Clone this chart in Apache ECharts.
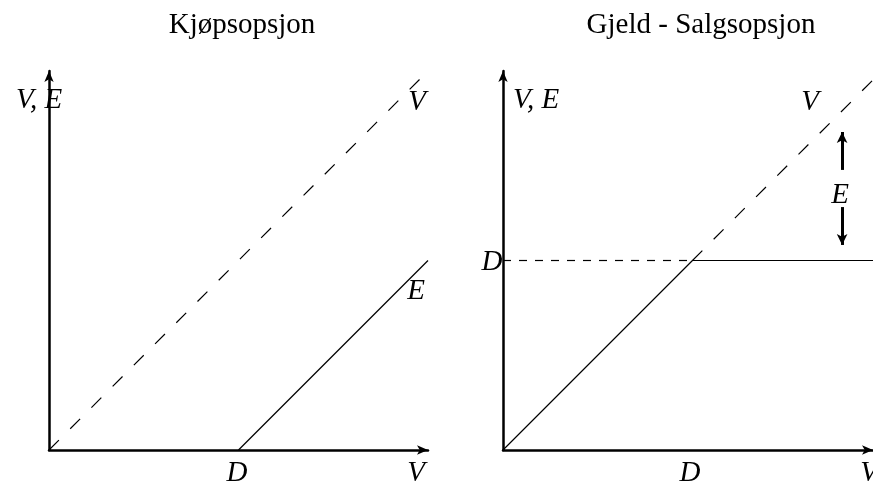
<!DOCTYPE html>
<html>
<head>
<meta charset="utf-8">
<script src="https://cdn.jsdelivr.net/npm/echarts@6/dist/echarts.min.js"></script>
<style>html,body{margin:0;padding:0;background:#fff}#c{width:873px;height:484px}</style>
</head>
<body>
<div id="c"></div>
<script>
// Data (option payoff diagrams, units: D = 1)
const titles = ['Kjøpsopsjon', 'Gjeld - Salgsopsjon'];
const strikeD = 1;
const callDashedV = [[0, 0], [2, 2]];
const callPayoffE = [[1, 0], [2, 1]];
const debtDashedV = [[1, 1], [2, 2]];
const debtLevelDashed = [[0, 1], [1, 1]];
const debtPayoff = [[0, 0], [1, 1], [2, 1]];
const equityArrowX = 1.79;
const equityArrowUp = [[1.478, 1.678]];
const equityArrowDown = [[1.282, 1.082]];

const chart = echarts.init(document.getElementById('c'), null, {renderer: 'canvas'});
const serif = '"Liberation Serif", "DejaVu Serif", serif';
const axisBase = (idx, max) => ({
  gridIndex: idx, min: 0, max: max, type: 'value',
  splitLine: {show: false}, axisTick: {show: false}, axisLabel: {show: false},
  axisLine: {show: true, onZero: false, symbol: ['none', 'arrow'], symbolSize: [7, 11],
    lineStyle: {color: '#000', width: 2.5}}
});
const thin = {color: '#000', width: 1.2};
const txt = (text, x, y, opts) => Object.assign({
  type: 'text', x: x, y: y,
  style: {text: text, font: 'italic 29px ' + serif, fill: '#000', align: 'center', verticalAlign: 'middle'}
}, opts || {});

function arrowLine(from, to) {
  return [{coord: [equityArrowX, from]}, {coord: [equityArrowX, to]}];
}

chart.setOption({
  animation: false,
  backgroundColor: '#fff',
  grid: [
    {left: 49, top: 71, width: 379, height: 379},
    {left: 503, top: 71, width: 370, height: 379}
  ],
  xAxis: [axisBase(0, 2), axisBase(1, 1.953)],
  yAxis: [axisBase(0, 2), axisBase(1, 2)],
  series: [
    {type: 'line', xAxisIndex: 0, yAxisIndex: 0, data: callDashedV, showSymbol: false,
      lineStyle: Object.assign({type: [14, 16]}, thin)},
    {type: 'line', xAxisIndex: 0, yAxisIndex: 0, data: callPayoffE, showSymbol: false, lineStyle: thin},
    {type: 'line', xAxisIndex: 1, yAxisIndex: 1, data: debtDashedV, showSymbol: false, clip: true,
      lineStyle: Object.assign({type: [14, 16]}, thin)},
    {type: 'line', xAxisIndex: 1, yAxisIndex: 1, data: debtLevelDashed, showSymbol: false,
      lineStyle: Object.assign({type: [8, 8]}, thin)},
    {type: 'line', xAxisIndex: 1, yAxisIndex: 1, data: debtPayoff, showSymbol: false, clip: true, lineStyle: thin,
      markLine: {
        silent: true, symbol: ['none', 'arrow'], symbolSize: [8, 11],
        label: {show: false},
        lineStyle: {color: '#000', width: 3, type: 'solid'},
        data: [
          arrowLine(equityArrowUp[0][0], equityArrowUp[0][1]),
          arrowLine(equityArrowDown[0][0], equityArrowDown[0][1])
        ]
      }}
  ],
  graphic: [
    {type: 'text', x: 242, y: 25, style: {text: titles[0], font: '29px ' + serif, fill: '#000', align: 'center', verticalAlign: 'middle'}},
    {type: 'text', x: 701, y: 25, style: {text: titles[1], font: '29px ' + serif, fill: '#000', align: 'center', verticalAlign: 'middle'}},
    txt('V, E', 39, 100),
    txt('V', 417, 102),
    txt('E', 416, 291),
    txt('D', 237, 473),
    txt('V', 416, 473),
    txt('V, E', 536, 100),
    txt('V', 810, 102),
    txt('E', 840, 195),
    txt('D', 492, 262),
    txt('D', 690, 473),
    txt('V', 869, 473)
  ]
});
</script>
</body>
</html>
